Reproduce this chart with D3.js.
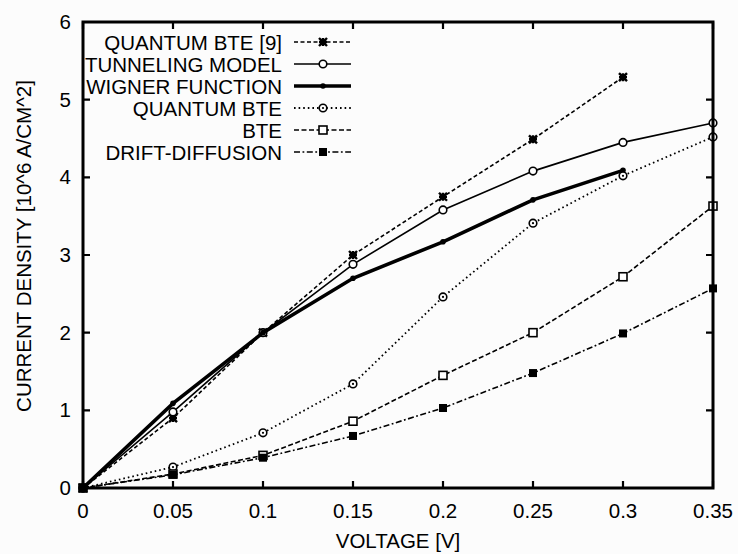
<!DOCTYPE html>
<meta charset="utf-8">
<style>
body { margin: 0; background: #fcfcfc; }
svg { font-family: "Liberation Sans", Arial, sans-serif; }
.frame { fill: none; stroke: #000; stroke-width: 3; }
.tick-label { font-size: 20.5px; fill: #000; }
.legend text { font-size: 20.5px; fill: #000; }
</style>
<body>
<svg width="738" height="554"></svg>
</body>
<script src="https://d3js.org/d3.v7.min.js"></script>
<script>

// voltages (x)
var voltage = [0, 0.05, 0.1, 0.15, 0.2, 0.25, 0.3, 0.35];

// current density values, 10^6 A/cm^2
var quantumBte9 = [0, 0.90, 2.00, 3.00, 3.75, 4.49, 5.29];
var tunneling   = [0, 0.98, 2.00, 2.88, 3.58, 4.08, 4.45, 4.70];
var wigner      = [0, 1.09, 2.00, 2.70, 3.17, 3.71, 4.09];
var quantumBte  = [0, 0.27, 0.71, 1.34, 2.46, 3.41, 4.02, 4.52];
var bte         = [0, 0.18, 0.42, 0.86, 1.45, 2.00, 2.72, 3.63];
var drift       = [0, 0.17, 0.39, 0.67, 1.03, 1.48, 1.99, 2.57];

var xTicks = [0, 0.05, 0.1, 0.15, 0.2, 0.25, 0.3, 0.35];
var xTickLabels = ["0", "0.05", "0.1", "0.15", "0.2", "0.25", "0.3", "0.35"];
var yTicks = [0, 1, 2, 3, 4, 5, 6];

var series = [
  {name: "QUANTUM BTE [9]", values: quantumBte9, width: 1.6, dash: "4,2.5", marker: "star"},
  {name: "TUNNELING MODEL", values: tunneling, width: 1.6, dash: null, marker: "circle"},
  {name: "WIGNER FUNCTION", values: wigner, width: 3.6, dash: null, marker: "dot"},
  {name: "QUANTUM BTE", values: quantumBte, width: 1.8, dash: "1.6,3", marker: "circledot"},
  {name: "BTE", values: bte, width: 1.6, dash: "5,2.5", marker: "square"},
  {name: "DRIFT-DIFFUSION", values: drift, width: 1.6, dash: "6,2.5,1.8,2.5", marker: "fsquare"}
];

var svg = d3.select("svg"),
    margin = {top: 22, right: 25, bottom: 66, left: 83},
    width = +svg.attr("width") - margin.left - margin.right,
    height = +svg.attr("height") - margin.top - margin.bottom;

var x = d3.scaleLinear().domain([0, 0.35]).range([0, width]),
    y = d3.scaleLinear().domain([0, 6]).range([height, 0]);

var g = svg.append("g")
    .attr("transform", "translate(" + margin.left + "," + margin.top + ")");

// inside ticks, mirrored on all sides
var tk = 7;
g.selectAll(".xt").data(xTicks).enter().append("path")
    .attr("d", function(d) { return "M" + x(d) + "," + height + "v" + (-tk) + "M" + x(d) + ",0v" + tk; })
    .attr("stroke", "#000").attr("stroke-width", 2.2);
g.selectAll(".yt").data(yTicks).enter().append("path")
    .attr("d", function(d) { return "M0," + y(d) + "h" + tk + "M" + width + "," + y(d) + "h" + (-tk); })
    .attr("stroke", "#000").attr("stroke-width", 2.2);

// tick labels
g.selectAll(".xl").data(xTicks).enter().append("text")
    .attr("class", "tick-label")
    .attr("x", function(d) { return x(d); })
    .attr("y", height + 30)
    .attr("text-anchor", "middle")
    .text(function(d, i) { return xTickLabels[i]; });
g.selectAll(".yl").data(yTicks).enter().append("text")
    .attr("class", "tick-label")
    .attr("x", -12)
    .attr("y", function(d) { return y(d) + 7; })
    .attr("text-anchor", "end")
    .text(function(d) { return d; });

// axis titles
svg.append("text")
    .attr("class", "tick-label")
    .attr("x", margin.left + width / 2)
    .attr("y", 548)
    .attr("text-anchor", "middle")
    .text("VOLTAGE [V]");
svg.append("text")
    .attr("class", "tick-label")
    .attr("transform", "translate(31,246) rotate(-90)")
    .attr("text-anchor", "middle")
    .text("CURRENT DENSITY [10^6 A/CM^2]");

// marker drawing
function drawMarker(sel, type) {
  if (type === "circle" || type === "circledot") {
    sel.append("circle").attr("r", 3.8).attr("fill", "#fff").attr("stroke", "#000").attr("stroke-width", 1.6);
    if (type === "circledot") sel.append("circle").attr("r", 1.1).attr("fill", "#000");
  } else if (type === "dot") {
    sel.append("circle").attr("r", 2.8).attr("fill", "#000");
  } else if (type === "square") {
    sel.append("rect").attr("x", -4).attr("y", -4).attr("width", 8).attr("height", 8)
        .attr("fill", "#fff").attr("stroke", "#000").attr("stroke-width", 1.6);
  } else if (type === "fsquare") {
    sel.append("rect").attr("x", -4).attr("y", -4).attr("width", 8).attr("height", 8).attr("fill", "#000");
  } else if (type === "star") {
    sel.append("path").attr("d", "M-4,-4L4,4M-4,4L4,-4M-4,0H4M0,-4V4")
        .attr("stroke", "#000").attr("stroke-width", 2.4);
  }
}

var line = d3.line()
    .x(function(d, i) { return x(voltage[i]); })
    .y(function(d) { return y(d); });

series.forEach(function(s) {
  g.append("path")
      .datum(s.values)
      .attr("fill", "none")
      .attr("stroke", "#000")
      .attr("stroke-width", s.width)
      .attr("stroke-dasharray", s.dash)
      .attr("d", line);
  g.selectAll(null)
    .data(s.values)
    .enter().append("g")
      .attr("transform", function(d, i) { return "translate(" + x(voltage[i]) + "," + y(d) + ")"; })
      .each(function() { drawMarker(d3.select(this), s.marker); });
});

// legend
var legend = svg.append("g").attr("class", "legend");
series.forEach(function(s, i) {
  var ly = 42 + i * 22;
  legend.append("text")
      .attr("x", 282)
      .attr("y", ly + 7.5)
      .attr("text-anchor", "end")
      .text(s.name);
  legend.append("path")
      .attr("d", "M294," + ly + "H351")
      .attr("stroke", "#000")
      .attr("stroke-width", s.width)
      .attr("stroke-dasharray", s.dash);
  var m = legend.append("g").attr("transform", "translate(323," + ly + ")");
  drawMarker(m, s.marker);
});

// frame
g.append("rect")
    .attr("class", "frame")
    .attr("width", width)
    .attr("height", height);

</script>
